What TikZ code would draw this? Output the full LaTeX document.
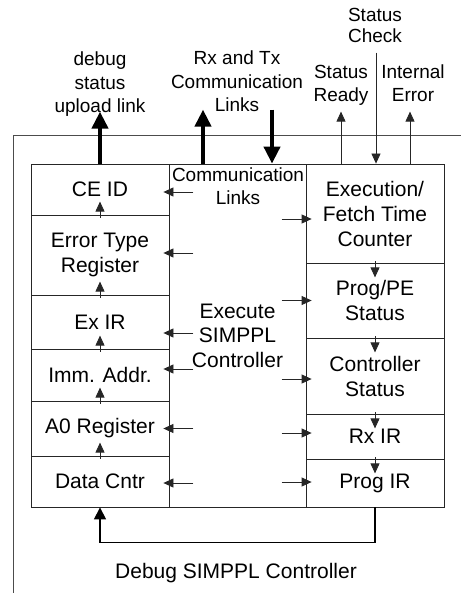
\documentclass[tikz,border=0pt]{standalone}
\usepackage{fontspec}
\setmainfont{Liberation Sans}
\usepackage{tikz}
\usetikzlibrary{positioning,calc,arrows.meta}
\tikzstyle{reg}=[draw=black!85, line width=0.8pt, inner sep=0pt, align=center, font=\fontsize{21}{25}\selectfont]
\tikzstyle{lbl}=[inner sep=0pt, align=center, anchor=base, font=\fontsize{19}{23.5}\selectfont]
\tikzstyle{sarr}=[draw=black!85, line width=0.8pt, -{Triangle[length=10pt,width=9pt]}]
\tikzstyle{tarr}=[line width=4pt, -{Triangle[length=17pt,width=16pt]}]
\tikzstyle{farr}=[line width=1.2pt, -{Triangle[length=12pt,width=12pt]}]

\begin{document}
\begin{tikzpicture}[x=1pt,y=-1pt]
				\useasboundingbox (0,0) rectangle (461,593);
				\draw[black!70, line width=0.8pt] (13,593) -- (13,135) -- (461,135);
				\node[reg, minimum width=137, minimum height=343, font=\fontsize{21}{24.5}\selectfont] (ctrl) at (237.5,335.5) {Execute\\SIMPPL\\Controller};
				\node[reg, minimum width=138, minimum height=51] (ceid) at (100,189.5) {CE ID};
				\node[reg, minimum width=138, minimum height=80] (errtype) at (100,255) {Error Type\\Register};
				\node[reg, minimum width=138, minimum height=54] (exir) at (100,322) {Ex IR};
				\node[reg, minimum width=138, minimum height=52] (immaddr) at (100,375) {Imm. Addr.};
				\node[reg, minimum width=138, minimum height=55] (a0reg) at (100,428.5) {A0 Register};
				\node[reg, minimum width=138, minimum height=51] (datacntr) at (100,481.5) {Data Cntr};
				\node[reg, minimum width=138, minimum height=99] (exec) at (375,213.5) {Execution/\\Fetch Time\\Counter};
				\node[reg, minimum width=138, minimum height=75] (progpe) at (375,300.5) {Prog/PE\\Status};
				\node[reg, minimum width=138, minimum height=76] (ctrlstat) at (375,376) {Controller\\Status};
				\node[reg, minimum width=138, minimum height=45] (rxir) at (375,436.5) {Rx IR};
				\node[reg, minimum width=138, minimum height=48] (progir) at (375,483) {Prog IR};
				\node[lbl] (commlbl) at (238,205) {Communication\\Links};
				\node[lbl] (dbglbl) at (100,112.7) {debug\\status\\upload link};
				\node[lbl] (rxtxlbl) at (237,112) {Rx and Tx\\Communication\\Links};
				\node[lbl, font=\fontsize{19}{21.5}\selectfont] (chklbl) at (375,43) {Status\\Check};
				\node[lbl] (rdylbl) at (341,102) {Status\\Ready};
				\node[lbl] (errlbl) at (413,102) {Internal\\Error};
				\node[reg, draw=none, anchor=base] (dbgctrl) at (236,578) {Debug SIMPPL Controller};
				% chain in the left column
				\draw[sarr] ([yshift=-3pt]errtype.north) -- ([yshift=13pt]errtype.north);
				\draw[sarr] ([yshift=-3pt]exir.north) -- ([yshift=13pt]exir.north);
				\draw[sarr] ([yshift=-3pt]immaddr.north) -- ([yshift=13pt]immaddr.north);
				\draw[sarr] ([yshift=-3pt]a0reg.north) -- ([yshift=13pt]a0reg.north);
				\draw[sarr] ([yshift=-3pt]datacntr.north) -- ([yshift=13pt]datacntr.north);
				% chain in the right column
				\draw[sarr] ([yshift=2pt]exec.south) -- ([yshift=-14pt]exec.south);
				\draw[sarr] ([yshift=2pt]progpe.south) -- ([yshift=-14pt]progpe.south);
				\draw[sarr] ([yshift=2pt]ctrlstat.south) -- ([yshift=-14pt]ctrlstat.south);
				\draw[sarr] ([yshift=2pt]rxir.south) -- ([yshift=-14pt]rxir.south);
				% controller to the left
				\draw[sarr] ([xshift=24pt,yshift=-2.5pt]ceid.east) -- ([xshift=-6pt,yshift=-2.5pt]ceid.east);
				\draw[sarr] ([xshift=24pt,yshift=2pt]errtype.east) -- ([xshift=-6pt,yshift=2pt]errtype.east);
				\draw[sarr] ([xshift=24pt,yshift=-11pt]exir.east) -- ([xshift=-6pt,yshift=-11pt]exir.east);
				\draw[sarr] ([xshift=24pt,yshift=6pt]immaddr.east) -- ([xshift=-6pt,yshift=6pt]immaddr.east);
				\draw[sarr] ([xshift=24pt]a0reg.east) -- ([xshift=-6pt]a0reg.east);
				\draw[sarr] ([xshift=24pt,yshift=-1.5pt]datacntr.east) -- ([xshift=-6pt,yshift=-1.5pt]datacntr.east);
				% controller to the right
				\draw[sarr] ([xshift=-24pt,yshift=-5.5pt]exec.west) -- ([xshift=6pt,yshift=-5.5pt]exec.west);
				\draw[sarr] ([xshift=-24pt]progpe.west) -- ([xshift=6pt]progpe.west);
				\draw[sarr] ([xshift=-24pt,yshift=-3pt]ctrlstat.west) -- ([xshift=6pt,yshift=-3pt]ctrlstat.west);
				\draw[sarr] ([xshift=-24pt,yshift=3.5pt]rxir.west) -- ([xshift=6pt,yshift=3.5pt]rxir.west);
				\draw[sarr] ([xshift=-24pt,yshift=1pt]progir.west) -- ([xshift=6pt,yshift=1pt]progir.west);
				% links at the top
				\draw[tarr] (ceid.north) -- ([yshift=52pt]ceid.north);
				\draw[tarr] ([xshift=-34.5pt]ctrl.north) -- ([xshift=-34.5pt,yshift=54pt]ctrl.north);
				\draw[tarr] ([xshift=34.5pt,yshift=54pt]ctrl.north) -- ([xshift=34.5pt]ctrl.north);
				\draw[sarr] ([xshift=-34pt]exec.north) -- ([xshift=-34pt,yshift=52pt]exec.north);
				\draw[sarr] ([xshift=1pt,yshift=111pt]exec.north) -- ([xshift=1pt]exec.north);
				\draw[sarr] ([xshift=35pt]exec.north) -- ([xshift=35pt,yshift=52pt]exec.north);
				% feedback
				\draw[farr] (progir.south) -- ++(0,35) -| (datacntr.south);
			\end{tikzpicture}
\end{document}
